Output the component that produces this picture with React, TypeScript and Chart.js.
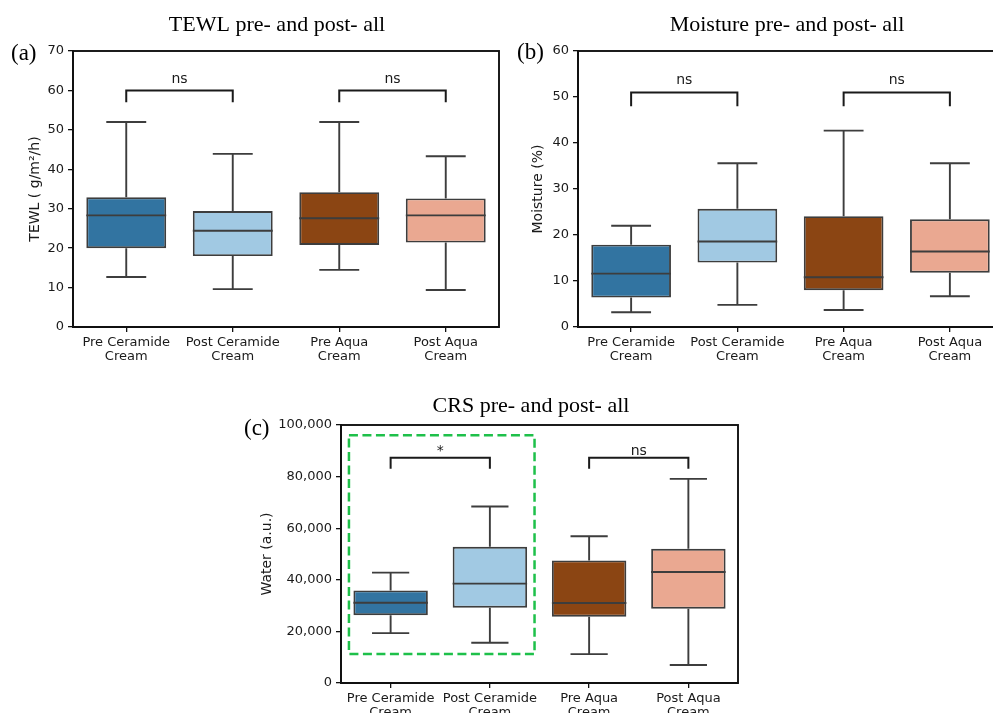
import React, { useEffect, useRef } from "react";
import { Chart, registerables } from "chart.js";

Chart.register(...registerables);

// ---------- data ----------
const categories = [
  ["Pre Ceramide", "Cream"],
  ["Post Ceramide", "Cream"],
  ["Pre Aqua", "Cream"],
  ["Post Aqua", "Cream"],
];
const boxColors = ["#3274a1", "#a1c9e3", "#8b4513", "#eaa891"];
const sigPairs = [
  [0, 1],
  [2, 3],
];

// TEWL
const tewlMin = [12.7, 9.6, 14.5, 9.4];
const tewlQ1 = [20.0, 18.0, 20.8, 21.4];
const tewlMedian = [28.3, 24.4, 27.6, 28.3];
const tewlQ3 = [32.9, 29.4, 34.2, 32.6];
const tewlMax = [52.0, 43.9, 52.0, 43.3];
const tewlSig = ["ns", "ns"];
const tewlTicks = { min: 0, max: 70, step: 10 };

// Moisture
const moistMin = [3.2, 4.8, 3.7, 6.7];
const moistQ1 = [6.4, 14.0, 8.0, 11.8];
const moistMedian = [11.6, 18.6, 10.8, 16.4];
const moistQ3 = [17.9, 25.7, 24.1, 23.4];
const moistMax = [22.0, 35.6, 42.7, 35.6];
const moistSig = ["ns", "ns"];
const moistTicks = { min: 0, max: 60, step: 10 };

// CRS water
const crsMin = [19350, 15600, 11200, 7000];
const crsQ1 = [26300, 29200, 25700, 28800];
const crsMedian = [31100, 38500, 31000, 43000];
const crsQ3 = [35900, 52800, 47500, 52000];
const crsMax = [42800, 68400, 56900, 79100];
const crsSig = ["*", "ns"];
const crsTicks = { min: 0, max: 100000, step: 20000 };

// ---------- chart helper ----------
type PanelCfg = {
  min: number[];
  q1: number[];
  med: number[];
  q3: number[];
  max: number[];
  sig: string[];
  ticks: { min: number; max: number; step: number };
  yLabel: string;
  title: string;
  titleX: number;
  titleY: number;
  panel: string;
  panelX: number;
  panelY: number;
  bracketTop: number;
  bracketLeg: number;
  sigGap: number;
  yAxisWidth: number;
  yTitlePad: number;
  xAxisHeight: number;
  padding: { top: number; right: number; left: number; bottom: number };
  highlight?: { x0: number; x1: number; y0: number; y1: number };
  width: number;
  height: number;
  left: number;
  top: number;
};

function makePlugin(cfg: PanelCfg) {
  return {
    id: "boxExtras",
    afterDatasetsDraw(chart: any) {
      const { ctx, chartArea: ca, scales } = chart;
      const xs = scales.x;
      const ys = scales.y;
      const meta = chart.getDatasetMeta(0);
      ctx.save();
      // whiskers, caps, medians
      ctx.strokeStyle = "#3d3d3d";
      ctx.lineWidth = 1.9;
      for (let i = 0; i < cfg.med.length; i++) {
        const bar = meta.data[i];
        const cx = bar.x;
        const w = bar.width;
        const yMin = ys.getPixelForValue(cfg.min[i]);
        const yQ1 = ys.getPixelForValue(cfg.q1[i]);
        const yMed = ys.getPixelForValue(cfg.med[i]);
        const yQ3 = ys.getPixelForValue(cfg.q3[i]);
        const yMax = ys.getPixelForValue(cfg.max[i]);
        ctx.beginPath();
        ctx.moveTo(cx, yQ3);
        ctx.lineTo(cx, yMax);
        ctx.moveTo(cx - w / 4, yMax);
        ctx.lineTo(cx + w / 4, yMax);
        ctx.moveTo(cx, yQ1);
        ctx.lineTo(cx, yMin);
        ctx.moveTo(cx - w / 4, yMin);
        ctx.lineTo(cx + w / 4, yMin);
        ctx.moveTo(cx - w / 2, yMed);
        ctx.lineTo(cx + w / 2, yMed);
        ctx.stroke();
      }
      // significance brackets
      ctx.strokeStyle = "#1a1a1a";
      ctx.lineWidth = 2;
      ctx.fillStyle = "#1a1a1a";
      ctx.font = '14px "DejaVu Sans"';
      ctx.textAlign = "center";
      ctx.textBaseline = "alphabetic";
      sigPairs.forEach((p, k) => {
        const x1 = xs.getPixelForValue(p[0]);
        const x2 = xs.getPixelForValue(p[1]);
        const yT = ys.getPixelForValue(cfg.bracketTop);
        const yL = ys.getPixelForValue(cfg.bracketLeg);
        ctx.beginPath();
        ctx.moveTo(x1, yL);
        ctx.lineTo(x1, yT);
        ctx.lineTo(x2, yT);
        ctx.lineTo(x2, yL);
        ctx.stroke();
        ctx.fillText(cfg.sig[k], (x1 + x2) / 2, yT - cfg.sigGap);
      });
      // highlight box
      if (cfg.highlight) {
        const h = cfg.highlight;
        const hx0 = xs.getPixelForValue(h.x0);
        const hx1 = xs.getPixelForValue(h.x1);
        const hy0 = ys.getPixelForValue(h.y0);
        const hy1 = ys.getPixelForValue(h.y1);
        ctx.strokeStyle = "#1ec04a";
        ctx.lineWidth = 2.5;
        ctx.setLineDash([9, 4.5]);
        ctx.strokeRect(hx0, hy1, hx1 - hx0, hy0 - hy1);
        ctx.setLineDash([]);
      }
      // frame
      ctx.strokeStyle = "#111";
      ctx.lineWidth = 1.9;
      ctx.strokeRect(ca.left, ca.top, ca.right - ca.left, ca.bottom - ca.top);
      // title and panel letter
      ctx.fillStyle = "#000";
      ctx.font = '22px "Liberation Serif"';
      ctx.textAlign = "center";
      ctx.fillText(cfg.title, cfg.titleX, cfg.titleY);
      ctx.font = '23px "Liberation Serif"';
      ctx.textAlign = "left";
      ctx.fillText(cfg.panel, cfg.panelX, cfg.panelY);
      ctx.restore();
    },
  };
}

function BoxChart({ cfg }: { cfg: PanelCfg }) {
  const ref = useRef<HTMLCanvasElement>(null);
  useEffect(() => {
    const chart = new Chart(ref.current as HTMLCanvasElement, {
      type: "bar",
      data: {
        labels: categories as any,
        datasets: [
          {
            data: cfg.q1.map((v, i) => [v, cfg.q3[i]]) as any,
            backgroundColor: boxColors,
            borderColor: "#3d3d3d",
            borderWidth: 1.9,
            borderSkipped: false,
            categoryPercentage: 1,
            barPercentage: 0.75,
          },
        ],
      },
      options: {
        responsive: false,
        animation: false,
        locale: "en-US",
        layout: { padding: cfg.padding },
        plugins: {
          legend: { display: false },
          tooltip: { enabled: false },
          title: { display: false },
        },
        scales: {
          x: {
            offset: true,
            grid: {
              offset: false,
              drawOnChartArea: false,
              drawTicks: true,
              tickLength: 5,
              color: "#111",
              lineWidth: 1.3,
            },
            border: { display: true, color: "#111", width: 1.9 },
            ticks: {
              color: "#1a1a1a",
              padding: 3,
              font: { family: "DejaVu Sans", size: 13, lineHeight: 1.1 },
              maxRotation: 0,
              autoSkip: false,
            },
            afterFit: (s: any) => {
              s.height = cfg.xAxisHeight;
            },
          },
          y: {
            min: cfg.ticks.min,
            max: cfg.ticks.max,
            grid: {
              drawOnChartArea: false,
              drawTicks: true,
              tickLength: 5,
              color: "#111",
              lineWidth: 1.3,
            },
            border: { display: true, color: "#111", width: 1.9 },
            ticks: {
              stepSize: cfg.ticks.step,
              color: "#1a1a1a",
              padding: 4,
              font: { family: "DejaVu Sans", size: 13 },
            },
            title: {
              display: true,
              text: cfg.yLabel,
              color: "#1a1a1a",
              font: { family: "DejaVu Sans", size: 14 },
              padding: { top: cfg.yTitlePad, bottom: 0 },
            },
            afterFit: (s: any) => {
              s.width = cfg.yAxisWidth;
            },
          },
        },
      },
      plugins: [makePlugin(cfg)],
    });
    return () => chart.destroy();
  }, []);
  return (
    <div
      style={{
        position: "absolute",
        left: cfg.left,
        top: cfg.top,
        width: cfg.width,
        height: cfg.height,
      }}
    >
      <canvas
        ref={ref}
        width={cfg.width}
        height={cfg.height}
        style={{ display: "block", width: cfg.width, height: cfg.height }}
      />
    </div>
  );
}

const panelA: PanelCfg = {
  min: tewlMin,
  q1: tewlQ1,
  med: tewlMedian,
  q3: tewlQ3,
  max: tewlMax,
  sig: tewlSig,
  ticks: tewlTicks,
  yLabel: "TEWL ( g/m²/h)",
  title: "TEWL pre- and post- all",
  titleX: 277,
  titleY: 31,
  panel: "(a)",
  panelX: 11,
  panelY: 60,
  bracketTop: 60,
  bracketLeg: 57,
  sigGap: 7,
  yAxisWidth: 73,
  yTitlePad: 26.6,
  xAxisHeight: 43,
  padding: { top: 51, right: 6, left: 0, bottom: 0 },
  width: 505,
  height: 370,
  left: 0,
  top: 0,
};

const panelB: PanelCfg = {
  min: moistMin,
  q1: moistQ1,
  med: moistMedian,
  q3: moistQ3,
  max: moistMax,
  sig: moistSig,
  ticks: moistTicks,
  yLabel: "Moisture (%)",
  title: "Moisture pre- and post- all",
  titleX: 282,
  titleY: 31,
  panel: "(b)",
  panelX: 12,
  panelY: 59,
  bracketTop: 51,
  bracketLeg: 48,
  sigGap: 8.5,
  yAxisWidth: 73,
  yTitlePad: 24.6,
  xAxisHeight: 43,
  padding: { top: 51, right: 12, left: 0, bottom: 0 },
  width: 510,
  height: 370,
  left: 505,
  top: 0,
};

const panelC: PanelCfg = {
  min: crsMin,
  q1: crsQ1,
  med: crsMedian,
  q3: crsQ3,
  max: crsMax,
  sig: crsSig,
  ticks: crsTicks,
  yLabel: "Water (a.u.)",
  title: "CRS pre- and post- all",
  titleX: 301,
  titleY: 32,
  panel: "(c)",
  panelX: 14,
  panelY: 55,
  bracketTop: 87300,
  bracketLeg: 83000,
  sigGap: 2.5,
  yAxisWidth: 111,
  yTitlePad: 29,
  xAxisHeight: 30,
  padding: { top: 45, right: 12, left: 0, bottom: 0 },
  highlight: { x0: -0.42, x1: 1.45, y0: 11200, y1: 96000 },
  width: 520,
  height: 333,
  left: 230,
  top: 380,
};

export default function App() {
  return (
    <div
      style={{
        position: "fixed",
        left: 0,
        top: 0,
        width: 993,
        height: 713,
        overflow: "hidden",
        background: "#fff",
      }}
    >
      <BoxChart cfg={panelA} />
      <BoxChart cfg={panelB} />
      <BoxChart cfg={panelC} />
    </div>
  );
}
